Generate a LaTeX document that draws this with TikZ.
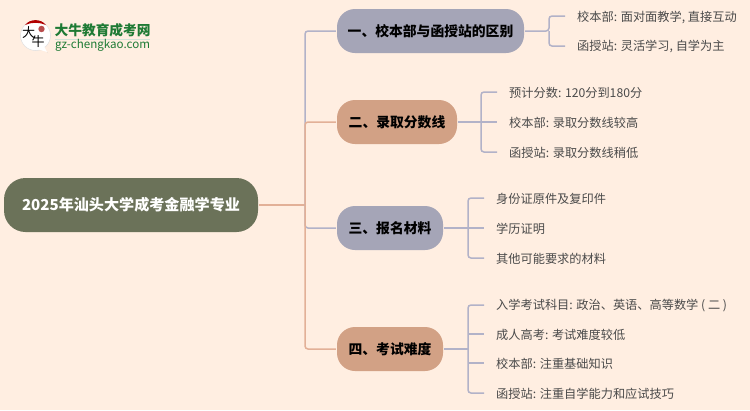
\documentclass[tikz,border=0pt]{standalone}
\usepackage{fontspec}
\setmainfont{Noto Sans CJK SC}
\usetikzlibrary{calc}
\definecolor{bgc}{HTML}{FFEEE1}
\definecolor{rootc}{HTML}{6B7259}
\definecolor{bluec}{HTML}{A5A5B7}
\definecolor{tanc}{HTML}{D2A185}
\definecolor{linea}{HTML}{B2B2C8}
\definecolor{lineb}{HTML}{E2B097}
\definecolor{leafc}{HTML}{4A4A4A}
\definecolor{logog}{HTML}{1E7A34}
\tikzset{
 rootbox/.style={rounded corners=21.5pt,fill=rootc,draw=none,minimum height=54pt,text=white,font=\fontsize{15.1}{18}\selectfont\bfseries,inner sep=0pt,anchor=center},
 branchbox/.style={rounded corners=18pt,draw=none,minimum height=44pt,text=black,font=\fontsize{13.8}{18}\selectfont\bfseries,inner sep=0pt,anchor=center},
 leaf/.style={anchor=west,text=leafc,font=\fontsize{12.2}{15}\selectfont,inner sep=0pt},
 conna/.style={draw=linea,line width=1.5pt,rounded corners=3pt},
 connb/.style={draw=lineb,line width=1.5pt,rounded corners=3pt},
}
\begin{document}
\begin{tikzpicture}[x=1pt,y=-1pt]
\useasboundingbox (0,0) rectangle (750,410);
\fill[bgc] (0,0) rectangle (750,410);
% logo
\fill[black!18] (33,50) -- (45,50) -- (48,53) -- (42,47) -- cycle;
\fill[white,draw=black!12,line width=.5pt] (35.5,35.5) circle (15);
\fill[white] (34,48) -- (44,46) -- (47,52) -- cycle;
\fill[red!70!black] (25,25) .. controls (30,18.5) and (41,18.5) .. (46,25) .. controls (39,22) and (32,22) .. (25,25) -- cycle;
\fill[red!60!black!70] (41.5,29) circle (3.2);
\node[inner sep=0pt,font=\fontsize{13}{13}\selectfont] (lg1) at (28.5,33) {大};
\node[inner sep=0pt,font=\fontsize{13}{13}\selectfont] (lg2) at (38,42) {牛};
\node[anchor=west,inner sep=0pt,text=logog,font=\fontsize{13.7}{14}\selectfont\bfseries] (lt) at (54.5,30) {大牛教育成考网};
\fill[logog!20] (54.5,38.5) rectangle (150,39.2);
\node[anchor=west,inner sep=0pt,text=logog,font=\fontsize{11.6}{12}\selectfont] (lu) at (55,45) {gz-chengkao.com};
% nodes
\node[rootbox,minimum width=254pt] (root) at (131,205) {2025年汕头大学成考金融学专业};
\node[branchbox,fill=bluec,minimum width=187pt] (b1) at (430.5,31) {一、校本部与函授站的区别};
\node[branchbox,fill=tanc,minimum width=120pt] (b2) at (397,122) {二、录取分数线};
\node[branchbox,fill=bluec,minimum width=106pt] (b3) at (390,228) {三、报名材料};
\node[branchbox,fill=tanc,minimum width=106pt] (b4) at (390,349) {四、考试难度};
% leaves
\node[leaf] (a1) at (577,17) {校本部: 面对面教学, 直接互动};
\node[leaf] (a2) at (577,46) {函授站: 灵活学习, 自学为主};
\node[leaf] (c1) at (509,93) {预计分数: 120分到180分};
\node[leaf] (c2) at (509,122.5) {校本部: 录取分数线较高};
\node[leaf] (c3) at (509,152.5) {函授站: 录取分数线稍低};
\node[leaf] (d1) at (496,199) {身份证原件及复印件};
\node[leaf] (d2) at (496,228.5) {学历证明};
\node[leaf] (d3) at (496,258.5) {其他可能要求的材料};
\node[leaf] (e1) at (496,305.5) {入学考试科目: 政治、英语、高等数学 ( 二 )};
\node[leaf] (e2) at (496,334.5) {成人高考: 考试难度较低};
\node[leaf] (e3) at (496,363.5) {校本部: 注重基础知识};
\node[leaf] (e4) at (496,393.5) {函授站: 注重自学能力和应试技巧};
% trunk
\coordinate (tk) at (305,205);
\draw[connb] ([xshift=1pt]root.east) -- (tk);
\draw[conna] (tk) -- (305,31) -- ([xshift=-1pt]b1.west);
\draw[connb] (tk) -- (305,122) -- ([xshift=-1pt]b2.west);
\draw[conna] (tk) -- (305,228) -- ([xshift=-1pt]b3.west);
\draw[connb] (tk) -- (305,349) -- ([xshift=-1pt]b4.west);
% branch 1
\draw[conna] ([xshift=1pt]b1.east) -- (549,31) -- (549,16) -- (565,16);
\draw[conna] (549,31) -- (549,46) -- (565,46);
% branch 2
\draw[conna] ([xshift=1pt]b2.east) -- (497,122);
\draw[conna] (497,92) -- (481,92) -- (481,152) -- (497,152);
% branch 3
\draw[conna] ([xshift=1pt]b3.east) -- (484,228);
\draw[conna] (484,198) -- (468,198) -- (468,258) -- (484,258);
% branch 4
\draw[conna] ([xshift=1pt]b4.east) -- (468,349);
\draw[conna] (484,305) -- (468,305) -- (468,393) -- (484,393);
\draw[conna] (468,334) -- (484,334);
\draw[conna] (468,363) -- (484,363);
\end{tikzpicture}
\end{document}
